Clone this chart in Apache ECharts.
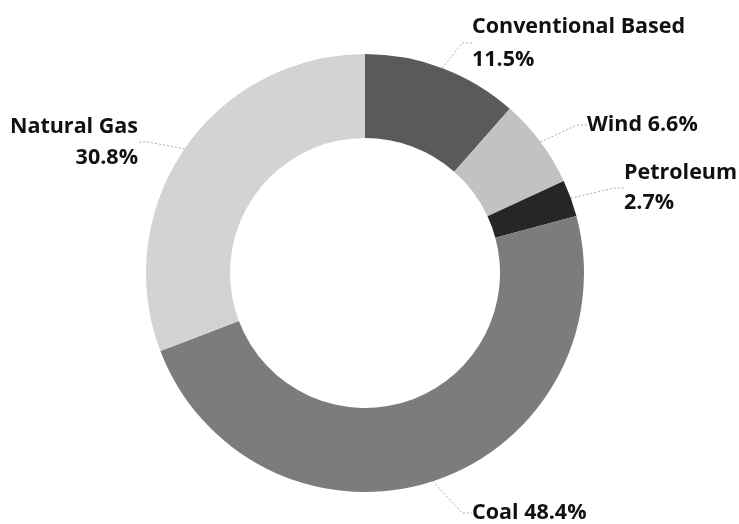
<!DOCTYPE html>
<html>
<head>
<meta charset="utf-8">
<script src="https://cdn.jsdelivr.net/npm/echarts@6/dist/echarts.min.js"></script>
<style>
html,body{margin:0;padding:0;background:#fff;}
#chart{width:739px;height:524px;}
</style>
</head>
<body>
<div id="chart"></div>
<script>
const categories = ['Conventional Based', 'Wind', 'Petroleum', 'Coal', 'Natural Gas'];
const values = [11.5, 6.6, 2.7, 48.4, 30.8];
const labelTexts = ['Conventional Based\n11.5%', 'Wind 6.6%', 'Petroleum\n2.7%', 'Coal 48.4%', 'Natural Gas\n30.8%'];
const colors = ['#5a5a5a', '#c2c2c2', '#262626', '#7c7c7c', '#d3d3d3'];
// label anchor placement (x, y, align, line height)
const labelPlace = [
  {x: 472, y: 43, align: 'left', lh: 33},
  {x: 587, y: 125, align: 'left', lh: 30},
  {x: 624, y: 188, align: 'left', lh: 30},
  {x: 472, y: 513, align: 'left', lh: 30},
  {x: 138, y: 142, align: 'right', lh: 31}
];

const chart = echarts.init(document.getElementById('chart'));
chart.setOption({
  animation: false,
  series: [{
    type: 'pie',
    center: [365, 273],
    radius: [135, 219],
    startAngle: 90,
    clockwise: true,
    data: categories.map((c, i) => ({
      name: c,
      value: values[i],
      itemStyle: {color: colors[i]},
      label: {lineHeight: labelPlace[i].lh}
    })),
    itemStyle: {borderWidth: 0},
    label: {
      show: true,
      position: 'outside',
      formatter: p => labelTexts[p.dataIndex],
      fontFamily: 'Open Sans',
      fontWeight: 'bold',
      fontSize: 21.5,
      color: '#111'
    },
    labelLine: {
      show: true,
      length: 6,
      length2: 10,
      lineStyle: {color: '#aaa', width: 1, type: [2, 2]}
    },
    labelLayout: function (params) {
      const p = labelPlace[params.dataIndex];
      return {x: p.x, y: p.y, align: p.align, verticalAlign: 'middle'};
    }
  }]
});
</script>
</body>
</html>
